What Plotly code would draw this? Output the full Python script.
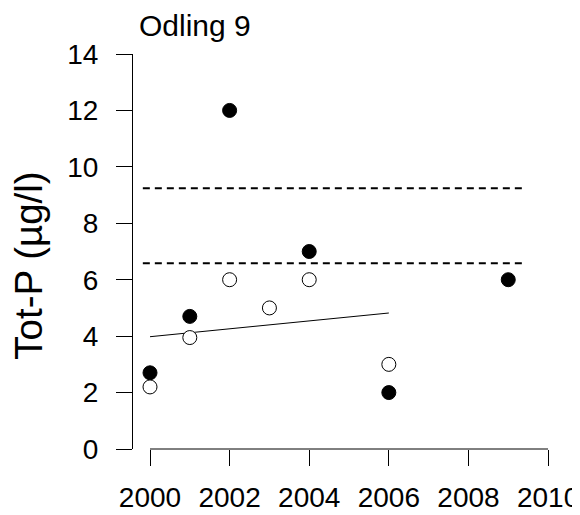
import plotly.graph_objects as go

# Data
years_filled = [2000, 2001, 2002, 2004, 2006, 2009]
vals_filled = [2.7, 4.7, 12.0, 7.0, 2.0, 6.0]
years_open = [2000, 2001, 2002, 2003, 2004, 2006]
vals_open = [2.2, 3.95, 6.0, 5.0, 6.0, 3.0]
trend_x = [2000, 2006]
trend_y = [3.98, 4.82]
ref_lines = [9.24, 6.58]
ref_x = [1999.82, 2009.45]
xticks = [2000, 2002, 2004, 2006, 2008, 2010]
yticks = [0, 2, 4, 6, 8, 10, 12, 14]

FONT = "Liberation Sans, Arial, sans-serif"

fig = go.Figure()

for yv in ref_lines:
    fig.add_trace(go.Scatter(x=ref_x, y=[yv, yv], mode="lines",
                             line=dict(color="black", width=2, dash="7px,5px"),
                             hoverinfo="skip", showlegend=False))

fig.add_trace(go.Scatter(x=trend_x, y=trend_y, mode="lines",
                         line=dict(color="black", width=1),
                         showlegend=False))

fig.add_trace(go.Scatter(x=years_filled, y=vals_filled, mode="markers",
                         marker=dict(color="black", size=14,
                                     line=dict(color="black", width=1)),
                         showlegend=False, cliponaxis=False))
fig.add_trace(go.Scatter(x=years_open, y=vals_open, mode="markers",
                         marker=dict(color="white", size=14,
                                     line=dict(color="black", width=1)),
                         showlegend=False, cliponaxis=False))

# x axis line only spanning the tick range
fig.add_shape(type="line", xref="x", yref="paper", x0=xticks[0], x1=xticks[-1],
              y0=0, y1=0, line=dict(color="black", width=1))

fig.update_layout(
    width=572, height=507,
    margin=dict(l=125, r=20, t=46, b=66),
    paper_bgcolor="white", plot_bgcolor="white",
    font=dict(family=FONT, color="black", size=28),
    xaxis=dict(range=[1999.573, 2010.30], tickvals=xticks,
               ticktext=[str(v) for v in xticks], automargin=False,
               showgrid=False, zeroline=False, showline=False,
               ticks="outside", ticklen=16, tickcolor="black", tickwidth=1,
               tickfont=dict(size=28, family=FONT), ticklabelstandoff=7),
    yaxis=dict(range=[0, 14], tickvals=yticks,
               ticktext=[str(v) for v in yticks], automargin=False,
               showgrid=False, zeroline=False, showline=True,
               linecolor="black", linewidth=1,
               ticks="outside", ticklen=16, tickcolor="black", tickwidth=1,
               tickfont=dict(size=28, family=FONT), ticklabelstandoff=12),
    annotations=[
        dict(text="Odling 9", x=0.009, y=1.071, xref="paper", yref="paper",
             xanchor="left", yanchor="middle", showarrow=False,
             font=dict(size=30, family=FONT)),
        dict(text="Tot-P (µg/l)", x=-0.245, y=0.465, xref="paper", yref="paper",
             xanchor="center", yanchor="middle", showarrow=False, textangle=-90,
             font=dict(size=38.5, family=FONT)),
    ],
)

fig.write_html("out.html")
